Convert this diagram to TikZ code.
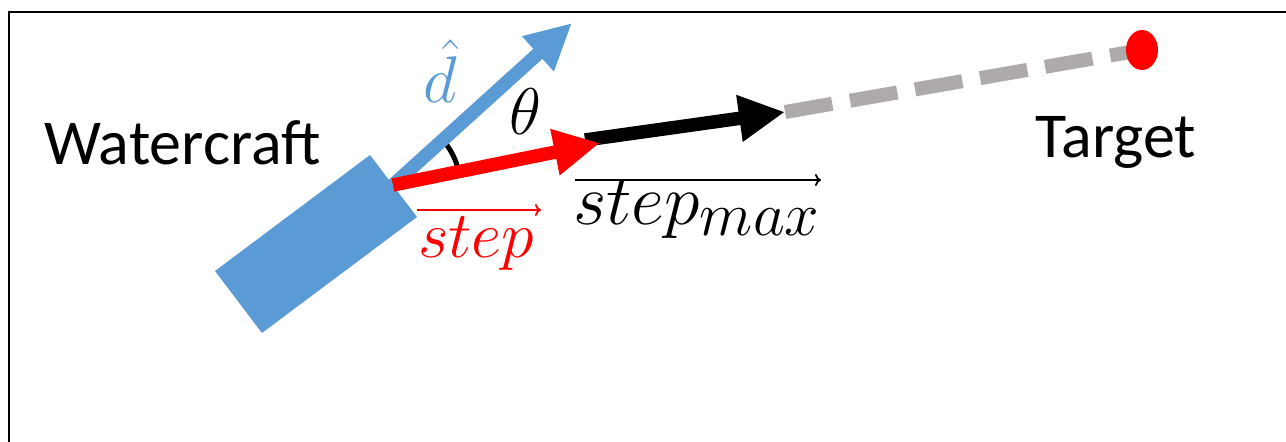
\documentclass[tikz,border=0pt]{standalone}
\usepackage{fix-cm}
\usepackage[no-math]{fontspec}
\setmainfont{Carlito}
\usetikzlibrary{arrows.meta,shapes.geometric}
\definecolor{boatblue}{HTML}{5B9BD5}
\definecolor{dashgray}{HTML}{AEAAAA}
\definecolor{tred}{HTML}{FF0000}
\tikzset{
  fatarrow/.style={line width=13.5pt, line cap=butt, -{Triangle[length=46pt,width=44pt]}},
  thinvec/.style={line width=1.8pt, -{To[length=6pt,width=12pt]}},
  lbl/.style={inner sep=0pt, font=\fontsize{64}{76}\selectfont},
  mlbl/.style={inner sep=0pt, font=\fontsize{66}{80}\selectfont},
}
\begin{document}
\begin{tikzpicture}[x=1pt,y=1pt]
\useasboundingbox (0,0) rectangle (1286,442);
% frame
\draw[line width=2.2pt] (9,0) -- (9,430) -- (1286,430);
% key points
\coordinate (O) at (393,257);
\coordinate (B) at (572,419);
\coordinate (R) at (600,299);
\coordinate (Ks) at (585,302);
\coordinate (K) at (785,330);
\coordinate (T) at (1142,392);
% dashed path to target
\draw[line width=14pt, dashgray, dash pattern=on 48pt off 18pt] (K) -- (T);
\node[ellipse, fill=tred, minimum width=32pt, minimum height=40pt, inner sep=0pt] (dot) at (T) {};
% boat
\fill[boatblue] (215,171) -- (262,109) -- (417,225) -- (370,287) -- cycle;
% black arrow (max step)
\draw[fatarrow, black] (Ks) -- (K);
% angle arc
\draw[line width=5pt] (O) ++(11:67) arc[start angle=11, end angle=42, radius=67];
% heading arrow
\draw[fatarrow, boatblue] (O) -- (B);
% step arrow
\draw[fatarrow, tred] (O) -- (R);
% labels
\node[lbl, anchor=base west] (wc) at (44,277) {Watercraft};
\node[lbl, anchor=base west] (tg) at (1035,284) {Target};
\node[mlbl] (th) at (525,330) {$\theta$};
\node[mlbl, text=boatblue] (dh) at (440,371) {$\hat{d}$};
\node[mlbl, text=tred, anchor=base west] (st) at (418,184) {$step$};
\node[inner sep=0pt, font=\fontsize{72}{84}\selectfont, anchor=base west] (sm) at (573,217) {$step_{\hbox{\fontsize{62}{66}\selectfont$max$}}$};
\coordinate (sa1) at (417,232);
\coordinate (sa2) at (541,232);
\draw[thinvec, tred] (sa1) -- (sa2);
\coordinate (ma1) at (575,262);
\coordinate (ma2) at (821,262);
\draw[thinvec, black] (ma1) -- (ma2);
\end{tikzpicture}
\end{document}
